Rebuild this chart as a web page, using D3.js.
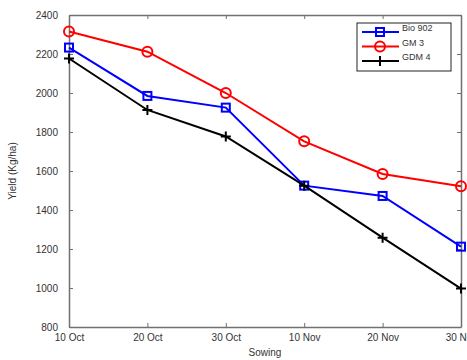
<!DOCTYPE html>
<html>
<head>
<meta charset="utf-8">
<script src="https://d3js.org/d3.v7.min.js"></script>
<style>
  body { margin: 0; background: #fff; }
  text { font-family: "Liberation Sans", Arial, sans-serif; }
</style>
</head>
<body>
<div id="chart"></div>
<script>
// Data
const dates = ["10 Oct", "20 Oct", "30 Oct", "10 Nov", "20 Nov", "30 Nov"];
const bio902 = [2233, 1985, 1925, 1525, 1472, 1212];
const gm3 = [2315, 2212, 2000, 1752, 1585, 1522];
const gdm4 = [2177, 1913, 1777, 1525, 1258, 997];
const yTicks = [800, 1000, 1200, 1400, 1600, 1800, 2000, 2200, 2400];

const series = [
  { name: "Bio 902", values: bio902, color: "#0000ff", marker: "square" },
  { name: "GM 3", values: gm3, color: "#ff0000", marker: "circle" },
  { name: "GDM 4", values: gdm4, color: "#000000", marker: "plus" }
];

const width = 467, height = 360;
const margin = { left: 69, right: 6, top: 15, bottom: 33 };

const svg = d3.select("#chart").append("svg")
  .attr("width", width)
  .attr("height", height);

const x = d3.scalePoint()
  .domain(dates)
  .range([margin.left, width - margin.right]);

const y = d3.scaleLinear()
  .domain([800, 2400])
  .range([height - margin.bottom, margin.top]);

const axisColor = "#707070";
const textColor = "#333";

// Axes box
const xAxis = svg.append("g")
  .attr("transform", "translate(0," + (height - margin.bottom) + ")")
  .call(d3.axisBottom(x).tickSizeInner(-4).tickSizeOuter(0).tickPadding(7));
const xTop = svg.append("g")
  .attr("transform", "translate(0," + margin.top + ")")
  .call(d3.axisTop(x).tickSizeInner(-4).tickSizeOuter(0).tickFormat(""));
const yAxis = svg.append("g")
  .attr("transform", "translate(" + margin.left + ",0)")
  .call(d3.axisLeft(y).tickValues(yTicks).tickFormat(d3.format("d"))
    .tickSizeInner(-4).tickSizeOuter(0).tickPadding(11));
const yRight = svg.append("g")
  .attr("transform", "translate(" + (width - margin.right) + ",0)")
  .call(d3.axisRight(y).tickValues(yTicks).tickSizeInner(-4).tickSizeOuter(0).tickFormat(""));

[xAxis, xTop, yAxis, yRight].forEach(function (g) {
  g.select(".domain").attr("stroke", axisColor).attr("stroke-width", 1.5);
  g.selectAll(".tick line").attr("stroke", axisColor);
  g.selectAll(".tick text")
    .attr("fill", textColor)
    .style("font-size", "10px")
    .style("font-family", "'Liberation Sans', Arial, sans-serif");
});

// Axis labels
svg.append("text")
  .attr("x", (margin.left + width - margin.right) / 2)
  .attr("y", 356)
  .attr("text-anchor", "middle")
  .attr("fill", textColor)
  .style("font-size", "10px")
  .text("Sowing");

svg.append("text")
  .attr("transform", "translate(16," + ((margin.top + height - margin.bottom) / 2) + ") rotate(-90)")
  .attr("text-anchor", "middle")
  .attr("fill", textColor)
  .style("font-size", "10px")
  .text("Yield (Kg/ha)");

// Marker drawing
function drawMarker(g, type, color, cx, cy) {
  if (type === "square") {
    g.append("rect")
      .attr("x", cx - 4).attr("y", cy - 4)
      .attr("width", 8).attr("height", 8)
      .attr("fill", "none").attr("stroke", color).attr("stroke-width", 2);
  } else if (type === "circle") {
    g.append("circle")
      .attr("cx", cx).attr("cy", cy).attr("r", 5)
      .attr("fill", "none").attr("stroke", color).attr("stroke-width", 2);
  } else {
    g.append("path")
      .attr("d", "M" + (cx - 5) + "," + cy + "H" + (cx + 5) + "M" + cx + "," + (cy - 5) + "V" + (cy + 5))
      .attr("stroke", color).attr("stroke-width", 2);
  }
}

const line = d3.line()
  .x(function (d, i) { return x(dates[i]); })
  .y(function (d) { return y(d); });

series.forEach(function (s) {
  const g = svg.append("g");
  g.append("path")
    .datum(s.values)
    .attr("d", line)
    .attr("fill", "none")
    .attr("stroke", s.color)
    .attr("stroke-width", 2);
  s.values.forEach(function (v, i) {
    drawMarker(g, s.marker, s.color, x(dates[i]), y(v));
  });
});

// Legend
const legend = svg.append("g");
legend.append("rect")
  .attr("x", 357).attr("y", 23)
  .attr("width", 94).attr("height", 48)
  .attr("fill", "#fff").attr("stroke", "#222").attr("stroke-width", 1);

series.forEach(function (s, i) {
  const ly = 32 + i * 14.5;
  const g = legend.append("g");
  g.append("line")
    .attr("x1", 362).attr("x2", 399)
    .attr("y1", ly).attr("y2", ly)
    .attr("stroke", s.color).attr("stroke-width", 2);
  drawMarker(g, s.marker, s.color, 380, ly);
  g.append("text")
    .attr("x", 402).attr("y", ly - 1)
    .attr("fill", textColor)
    .style("font-size", "9px")
    .text(s.name);
});
</script>
</body>
</html>
